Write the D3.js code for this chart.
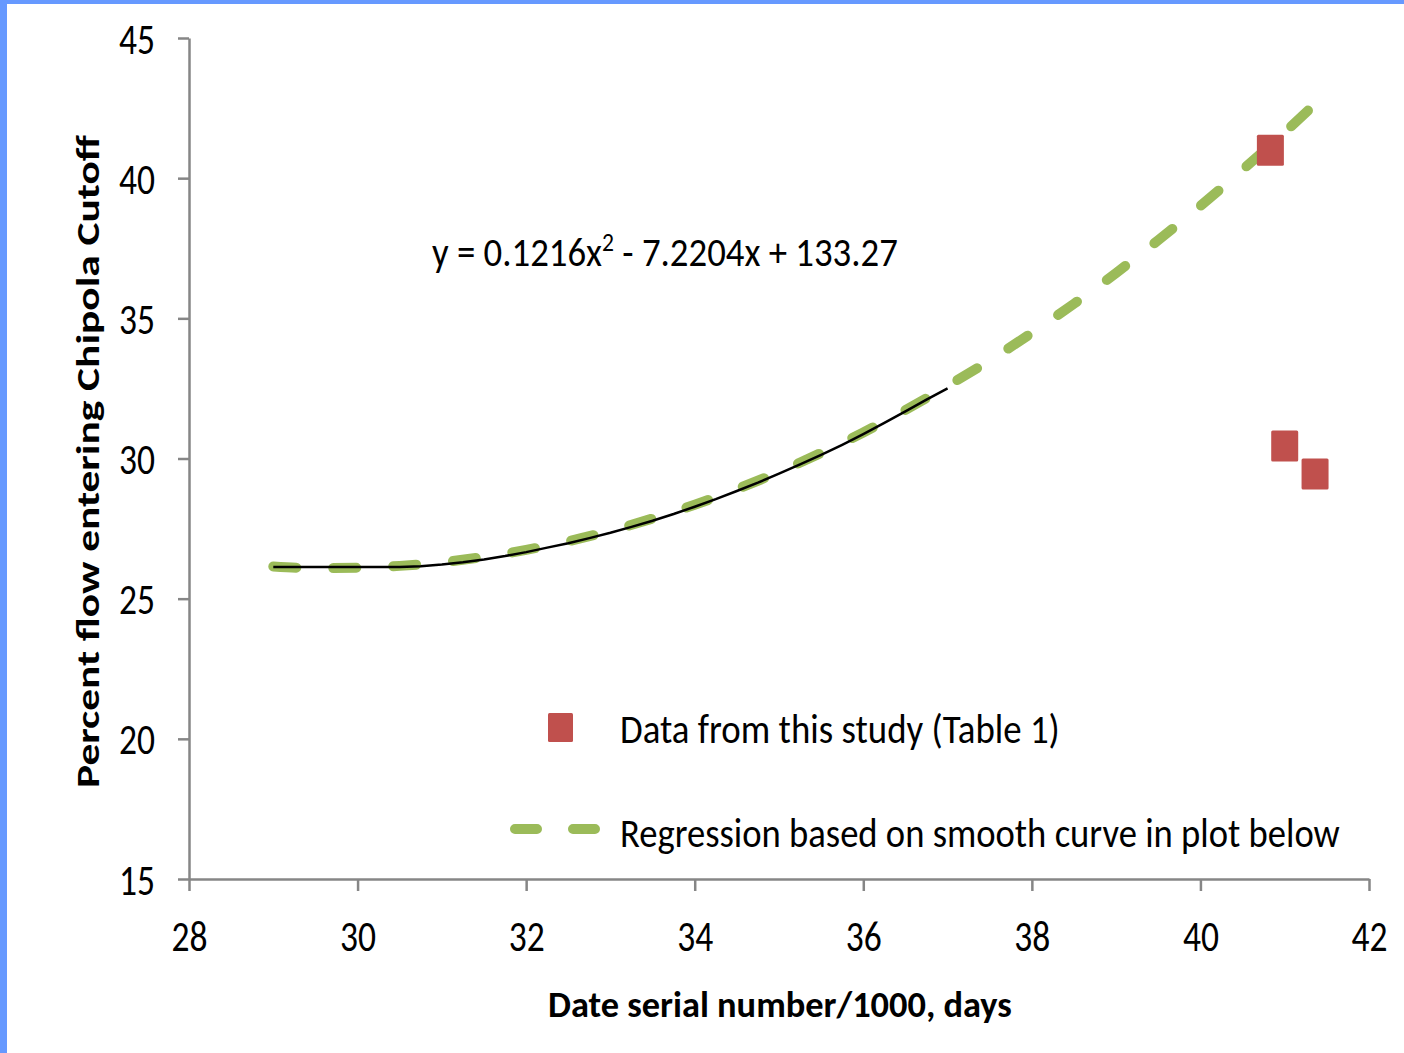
<!DOCTYPE html>
<html>
<head>
<meta charset="utf-8">
<script src="https://cdn.jsdelivr.net/npm/d3@7"></script>
<style>
    body { margin: 0; background: #fff; }
    svg { display: block; }
    text { font-family: Carlito, "Liberation Sans Narrow", "Open Sans", sans-serif; fill: #000; }
</style>
</head>
<body>
<script>
// Smooth curve (black)
var curveX = [29, 29.25, 29.5, 29.75, 30, 30.25, 30.5, 30.75, 31, 31.25,
    31.5, 31.75, 32, 32.25, 32.5, 32.75, 33, 33.25, 33.5, 33.75, 34, 34.25,
    34.5, 34.75, 35, 35.25, 35.5, 35.75, 36, 36.25, 36.5, 36.75, 37];
var curveY = [26.13, 26.13, 26.13, 26.13, 26.13, 26.13, 26.13, 26.16, 26.22,
    26.3, 26.4, 26.52, 26.66, 26.82, 26.98, 27.16, 27.35, 27.56, 27.78, 28.02,
    28.28, 28.55, 28.84, 29.14, 29.46, 29.79, 30.13, 30.49, 30.87, 31.27,
    31.68, 32.1, 32.5];

// Regression curve (green dashed)
var regX = [29, 29.5, 30, 30.5, 31, 31.5, 32, 32.5, 33, 33.5, 34, 34.5, 35,
    35.5, 36, 36.5, 37, 37.5, 38, 38.5, 39, 39.5, 40, 40.5, 41, 41.35];
var regY = [26.15, 26.09, 26.1, 26.17, 26.3, 26.49, 26.74, 27.05, 27.42,
    27.86, 28.35, 28.91, 29.52, 30.2, 30.93, 31.73, 32.59, 33.5, 34.48,
    35.52, 36.62, 37.79, 39.01, 40.3, 41.64, 42.62];

// Data from this study (red squares)
var studyX = [40.83, 41.0, 41.36];
var studyY = [41.0, 30.45, 29.45];

var xTicks = [28, 30, 32, 34, 36, 38, 40, 42];
var yTicks = [15, 20, 25, 30, 35, 40, 45];

var W = 1404, H = 1053;
var axisColor = "#868686",
    green = "#9bbb59",
    red = "#c0504d";

var svg = d3.select("body").append("svg")
    .attr("width", W)
    .attr("height", H);

//Squeeze a text horizontally so it spans the given width
function fitText(sel, tx, ty, width, rotate) {
    var len = sel.node().getComputedTextLength();
    sel.attr("transform", "translate(" + tx + "," + ty + ")" +
        (rotate ? " rotate(" + rotate + ")" : "") +
        " scale(" + (width / len) + ",1)");
}

//Blue frame on top and left
svg.append("rect").attr("x", 0).attr("y", 0)
    .attr("width", W).attr("height", 4).attr("fill", "#6699ff");
svg.append("rect").attr("x", 0).attr("y", 0)
    .attr("width", 7).attr("height", H).attr("fill", "#6699ff");

var x = d3.scaleLinear().domain([28, 42]).range([189, 1369]);
var y = d3.scaleLinear().domain([15, 45]).range([879, 38]);

//Axes
var xAxis = svg.append("g")
    .attr("transform", "translate(0," + y(15) + ")")
    .call(d3.axisBottom(x).tickValues(xTicks).tickSize(12)
        .tickSizeOuter(0));
var yAxis = svg.append("g")
    .attr("transform", "translate(" + x(28) + ",0)")
    .call(d3.axisLeft(y).tickValues(yTicks).tickSize(11)
        .tickSizeOuter(0));

[xAxis, yAxis].forEach(function(g) {
    g.select(".domain").attr("stroke", axisColor).attr("stroke-width", 2.5);
    g.selectAll(".tick line").attr("stroke", axisColor)
        .attr("stroke-width", 2.5);
    g.selectAll(".tick text")
        .style("font-family", null)
        .attr("font-size", 43)
        .attr("x", null).attr("y", null).attr("dy", null);
});
xAxis.selectAll(".tick text").each(function() {
    fitText(d3.select(this), 0, 72, 36);
});
yAxis.selectAll(".tick text").attr("text-anchor", "start").each(function() {
    fitText(d3.select(this), -70, 15, 36);
});

//Green dashed regression line
var regData = regX.map(function(v, i) { return [v, regY[i]]; });
svg.append("path")
    .datum(regData)
    .attr("fill", "none")
    .attr("stroke", green)
    .attr("stroke-width", 10)
    .attr("stroke-linecap", "round")
    .attr("stroke-dasharray", "23 37")
    .attr("d", d3.line()
        .x(function(d) { return x(d[0]); })
        .y(function(d) { return y(d[1]); })
        .curve(d3.curveMonotoneX));

//Black smooth curve on top
var curveData = curveX.map(function(v, i) { return [v, curveY[i]]; });
svg.append("path")
    .datum(curveData)
    .attr("fill", "none")
    .attr("stroke", "#000")
    .attr("stroke-width", 2.5)
    .attr("d", d3.line()
        .x(function(d) { return x(d[0]); })
        .y(function(d) { return y(d[1]); }));

//Red squares
var sqW = 27, sqH = 31;
svg.selectAll("rect.study")
    .data(studyX.map(function(v, i) { return [v, studyY[i]]; }))
    .enter().append("rect")
    .attr("class", "study")
    .attr("x", function(d) { return x(d[0]) - sqW / 2; })
    .attr("y", function(d) { return y(d[1]) - sqH / 2; })
    .attr("width", sqW)
    .attr("height", sqH)
    .attr("rx", 1.5)
    .attr("fill", red);

//Equation
var eq = svg.append("text")
    .attr("font-size", 42);
eq.append("tspan").text("y = 0.1216x");
eq.append("tspan").attr("font-size", 27).attr("dy", -15).text("2");
eq.append("tspan").attr("dy", 15).text(" - 7.2204x + 133.27");
fitText(eq, 432, 266, 466);

//Legend
svg.append("rect")
    .attr("x", 548).attr("y", 713)
    .attr("width", 25).attr("height", 29)
    .attr("rx", 1.5)
    .attr("fill", red);
fitText(svg.append("text")
    .attr("font-size", 41)
    .text("Data from this study (Table 1)"), 620, 743, 440);

svg.append("line")
    .attr("x1", 515).attr("x2", 600)
    .attr("y1", 829).attr("y2", 829)
    .attr("stroke", green)
    .attr("stroke-width", 10)
    .attr("stroke-linecap", "round")
    .attr("stroke-dasharray", "22 36");
fitText(svg.append("text")
    .attr("font-size", 41)
    .text("Regression based on smooth  curve in plot below"), 620, 847, 720);

//Axis titles
fitText(svg.append("text")
    .attr("font-size", 37)
    .attr("font-weight", "bold")
    .text("Date serial number/1000, days"), 548, 1017, 464);

fitText(svg.append("text")
    .attr("font-size", 32)
    .attr("font-weight", "bold")
    .text("Percent flow entering Chipola Cutoff"), 99, 788, 653, -90);
</script>
</body>
</html>
